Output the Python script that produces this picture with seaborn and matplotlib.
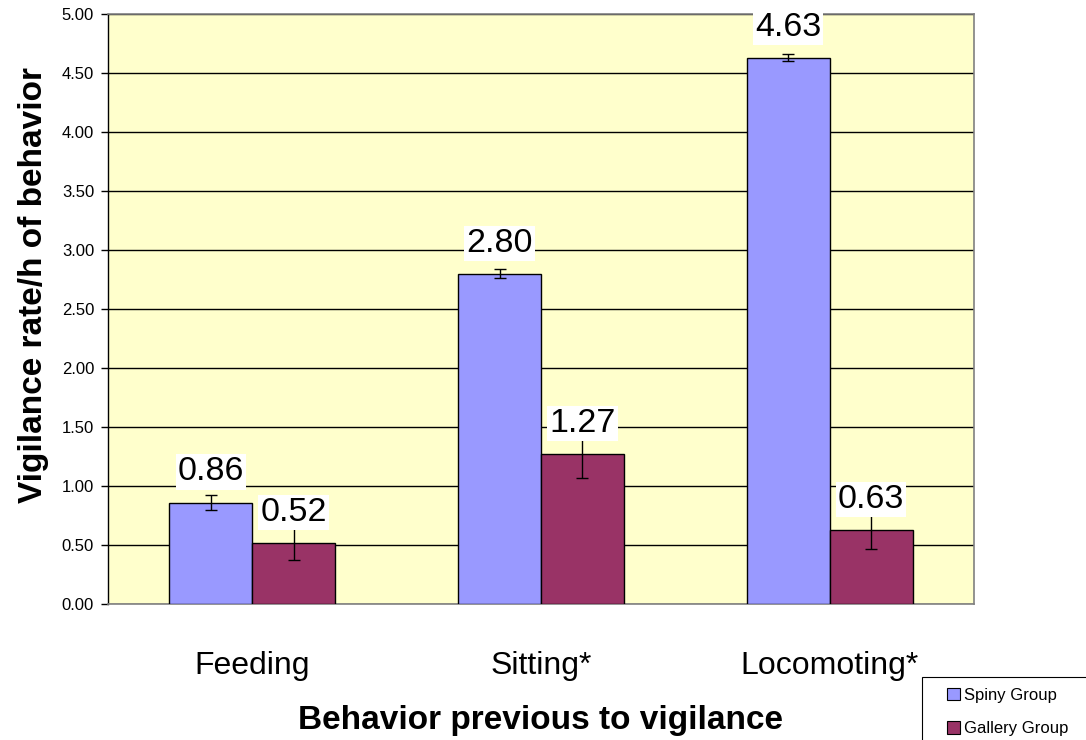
import numpy as np
import pandas as pd
import matplotlib
matplotlib.use("Agg")
import matplotlib.pyplot as plt
import seaborn as sns
from matplotlib.patches import Patch, Rectangle

# ---- data ----
behaviors = ["Feeding", "Sitting*", "Locomoting*"]
groups = ["Spiny Group", "Gallery Group"]
spiny_rate = [0.86, 2.80, 4.63]
gallery_rate = [0.52, 1.27, 0.63]
spiny_err = [0.06, 0.035, 0.03]
gallery_err = [0.15, 0.20, 0.165]
y_ticks = [0.0, 0.5, 1.0, 1.5, 2.0, 2.5, 3.0, 3.5, 4.0, 4.5, 5.0]

colors = ["#9999FF", "#993366"]

df = pd.DataFrame({
    "behavior": behaviors * 2,
    "group": [groups[0]] * 3 + [groups[1]] * 3,
    "rate": spiny_rate + gallery_rate,
})
errs = [spiny_err, gallery_err]

sns.set_theme(style="white")
plt.rcParams["font.family"] = ["Liberation Sans", "DejaVu Sans"]
plt.rcParams["text.color"] = "black"
plt.rcParams["axes.labelcolor"] = "black"
plt.rcParams["xtick.color"] = "black"
plt.rcParams["ytick.color"] = "black"

fig = plt.figure(figsize=(10.86, 7.4), dpi=100)
ax = fig.add_axes([108 / 1086, 136 / 740, 866 / 1086, 590 / 740])
ax.set_facecolor("#FFFFCC")

sns.barplot(data=df, x="behavior", y="rate", hue="group", order=behaviors,
            hue_order=groups, palette=colors, saturation=1, width=0.574,
            edgecolor="black", linewidth=1, errorbar=None, legend=False,
            ax=ax, zorder=3)

# error bars and value labels
for cont, err in zip(ax.containers, errs):
    for bar, e in zip(cont, err):
        cx = bar.get_x() + bar.get_width() / 2
        h = bar.get_height()
        ax.errorbar(cx, h, yerr=e, fmt="none", ecolor="black", elinewidth=1,
                    capsize=4, capthick=1, zorder=4)
        ax.annotate(f"{h:.2f}", (cx, h), xytext=(0, 22), textcoords="offset points",
                    ha="center", va="center", fontsize=24.5, color="black", zorder=5,
                    bbox=dict(boxstyle="square,pad=0.06", fc="white", ec="none"))

ax.set_ylim(0, 5)
ax.set_xlim(-0.5, 2.5)
ax.set_yticks(y_ticks)
ax.set_yticklabels([f"{t:.2f}" for t in y_ticks], fontsize=12)
ax.yaxis.grid(True, color="black", linewidth=1)
ax.set_axisbelow(True)

ax.set_xticks([0, 1, 2])
ax.set_xticklabels(behaviors, fontsize=23)
ax.set_xticks([-0.5, 0.5, 1.5, 2.5], minor=True)
ax.tick_params(axis="x", which="major", length=0, pad=34)
ax.tick_params(axis="x", which="minor", length=6, color="#808080", width=1, direction="out")
ax.tick_params(axis="y", length=5, width=1, color="black", direction="out", pad=5, left=True)

for side in ["top", "right", "bottom"]:
    ax.spines[side].set_color("#808080")
    ax.spines[side].set_linewidth(1.2)
ax.spines["left"].set_color("black")
ax.spines["left"].set_linewidth(1)

ax.set_xlabel("Behavior previous to vigilance", fontsize=24, fontweight="bold")
ax.xaxis.set_label_coords(0.5, -0.172)
ax.set_ylabel("Vigilance rate/h of behavior", fontsize=24, fontweight="bold")
ax.yaxis.set_label_coords(-0.068, 0.54)

# legend: frame runs off the right and bottom edges like the reference
fig.patches.append(Rectangle((922 / 1086, -0.05), 0.2, (740 - 677) / 740 + 0.05,
                             transform=fig.transFigure, fill=False,
                             edgecolor="black", linewidth=0.8))
handles = [Patch(facecolor=c, edgecolor="black", linewidth=0.8) for c in colors]
leg = fig.legend(handles, groups, loc="upper left",
                 bbox_to_anchor=(947 / 1086, 1 - 688 / 740),
                 fontsize=12, frameon=False,
                 handlelength=0.75, handleheight=0.75, handletextpad=0.25,
                 labelspacing=1.1, borderpad=0, borderaxespad=0)
for t in leg.get_texts():
    t.set_color("black")

fig.savefig("out.png", dpi=100, facecolor="white")
